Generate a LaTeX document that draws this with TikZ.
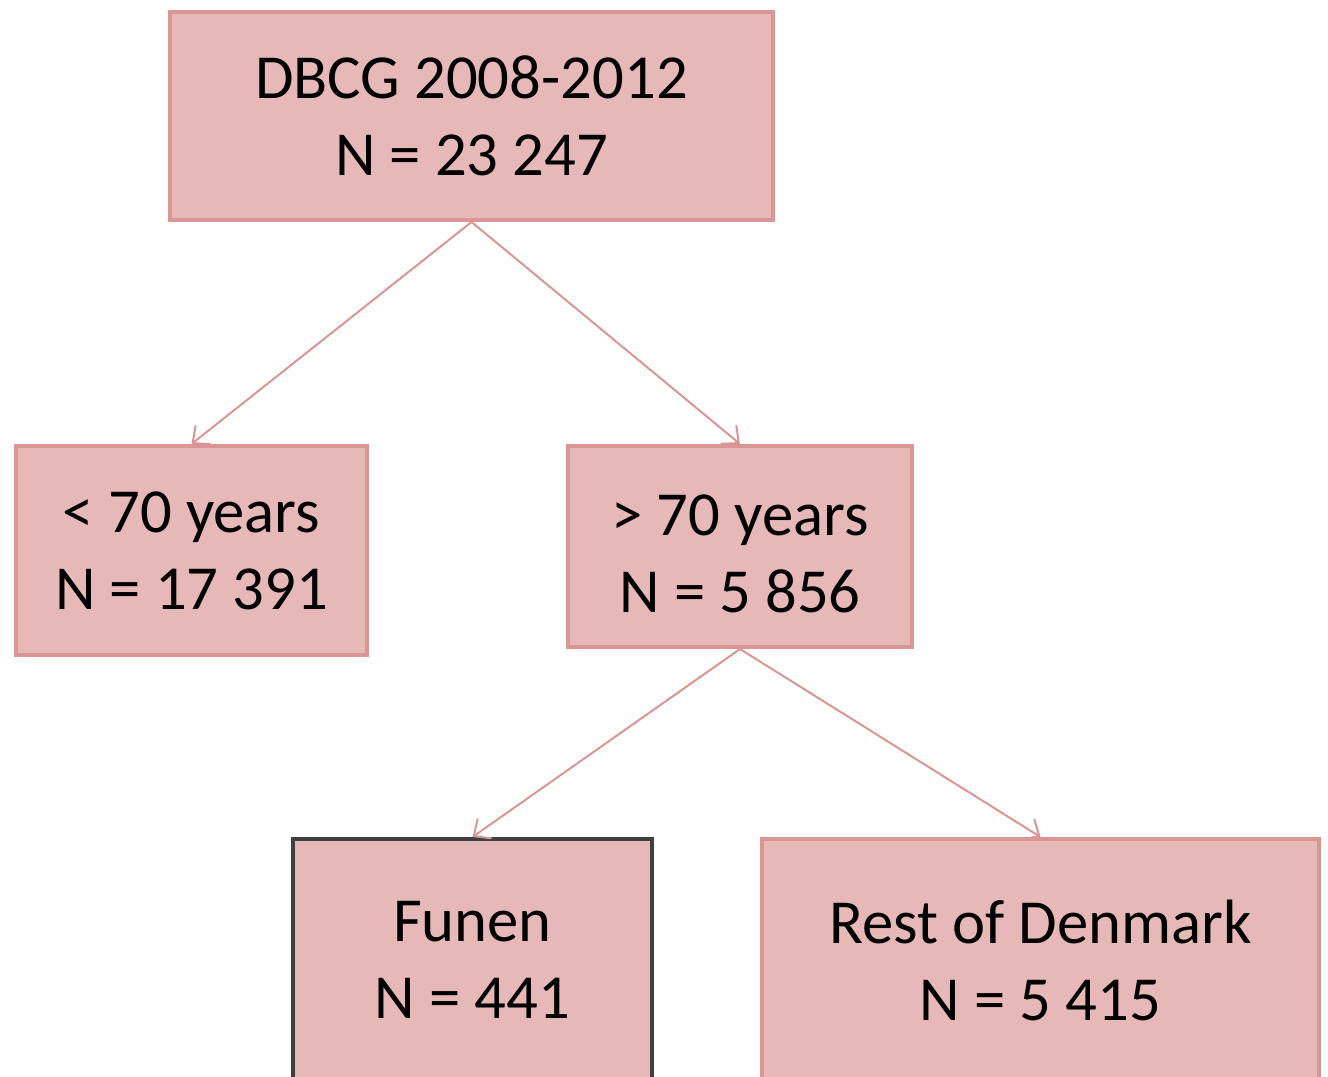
\documentclass[tikz,border=0pt]{standalone}
\usepackage{fontspec}
\setmainfont{Carlito}
\usetikzlibrary{arrows.meta}
\definecolor{boxfill}{HTML}{E6B8B7}
\definecolor{boxline}{HTML}{D99694}
\definecolor{darkline}{HTML}{404040}
\tikzset{
  box/.style={draw=boxline, fill=boxfill, line width=3pt, rectangle, align=center,
    inner sep=0pt, font=\fontsize{47}{57.75}\selectfont, text=black},
  boxtext/.style={align=center, inner sep=0pt, font=\fontsize{47}{57.75}\selectfont, text=black},
  conn/.style={draw=boxline, line width=1.5pt, -{Straight Barb[length=10pt,width=18pt,line width=1.5pt]}}
}
\begin{document}
\begin{tikzpicture}[x=0.75pt,y=-0.75pt]
\clip (0,0) rectangle (1328,1076);
\useasboundingbox (0,0) rectangle (1328,1076);
\fill[white] (0,0) rectangle (1328,1076);
\node[box, minimum width=603*0.75pt, minimum height=208*0.75pt] (top) at (471.5,116) {DBCG 2008-2012\\N = 23 247};
\node[box, minimum width=351*0.75pt, minimum height=209*0.75pt] (lt) at (191.5,550.5) {< 70 years\\N = 17 391};
\node[box, minimum width=344*0.75pt, minimum height=201*0.75pt] (gt) at (740,546.5) {};
\node[boxtext] (gtt) at (740,554) {> 70 years\\N = 5 856};
\node[box, draw=darkline, minimum width=359*0.75pt, minimum height=242*0.75pt] (funen) at (472.5,960) {Funen\\N = 441};
\node[box, minimum width=557*0.75pt, minimum height=242*0.75pt] (rest) at (1040.5,960) {Rest of Denmark\\N = 5 415};
\draw[conn] (top.south) -- (lt.north);
\draw[conn] (top.south) -- (gt.north);
\draw[conn] (gt.south) -- (funen.north);
\draw[conn] (gt.south) -- (rest.north);
\end{tikzpicture}
\end{document}
